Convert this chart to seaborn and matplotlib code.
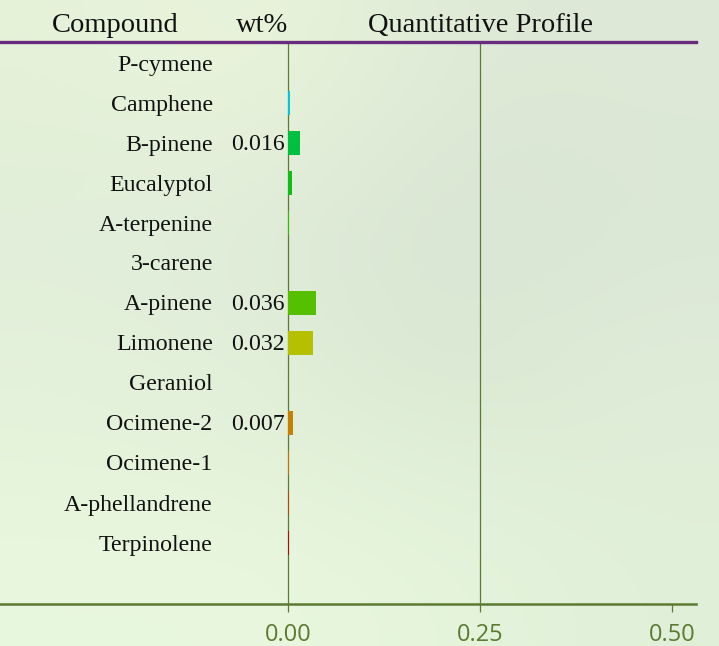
import numpy as np
import matplotlib.pyplot as plt
import seaborn as sns

# dados do perfil quantitativo
compounds = ['P-cymene', 'Camphene', 'B-pinene', 'Eucalyptol', 'A-terpenine', '3-carene',
             'A-pinene', 'Limonene', 'Geraniol', 'Ocimene-2', 'Ocimene-1', 'A-phellandrene',
             'Terpinolene']
wt_pct = [0.0, 0.002, 0.016, 0.005, 0.001, 0.0, 0.036, 0.032, 0.0, 0.007, 0.001, 0.001, 0.001]
bar_colors = ['#2080e0', '#00c8dc', '#00c040', '#10c010', '#30c000', '#40c000',
              '#55c000', '#b4c000', '#c0a000', '#c88000', '#c87000', '#c04000', '#c00000']
ticks = [0.00, 0.25, 0.50]
tick_labels = ['0.00', '0.25', '0.50']

sns.set_theme(style="white")
plt.rcParams['font.family'] = ['Liberation Serif', 'DejaVu Serif']

fig = plt.figure(figsize=(7.19, 6.46), dpi=100)

# fundo desfocado verde-claro
bg = fig.add_axes([0, 0, 1, 1], zorder=-1)
bg_grid = np.array([
    [[0.90, 0.95, 0.85], [0.92, 0.96, 0.86], [0.87, 0.92, 0.84], [0.87, 0.91, 0.84]],
    [[0.88, 0.93, 0.85], [0.87, 0.92, 0.85], [0.84, 0.89, 0.82], [0.86, 0.91, 0.84]],
    [[0.90, 0.95, 0.86], [0.89, 0.94, 0.85], [0.86, 0.92, 0.83], [0.88, 0.93, 0.85]],
    [[0.91, 0.97, 0.87], [0.91, 0.97, 0.87], [0.90, 0.96, 0.86], [0.88, 0.94, 0.85]],
])
bg.imshow(bg_grid, aspect='auto', interpolation='bicubic', extent=[0, 1, 0, 1])
bg.axis('off')

ax = fig.add_axes([0, 1 - 604 / 646, 696 / 719, 562 / 646])
ax.patch.set_alpha(0)

sns.barplot(x=wt_pct, y=compounds, hue=compounds, palette=bar_colors, legend=False,
            orient='h', width=0.62, saturation=1, linewidth=0, ax=ax, zorder=3)

ax.set_xlim(-288 / 768, (696 - 288) / 768)
ax.set_ylim(12 + 61 / 40, -21 / 40)

olive = '#5b7a32'
for x in [0.0, 0.25]:
    ax.axvline(x, color=olive, lw=0.9, zorder=2)

# nomes e valores
for i, (name, v) in enumerate(zip(compounds, wt_pct)):
    ax.text(-0.098, i + 0.05, name, ha='right', va='center', fontsize=17.2, color='#111111')
    if v >= 0.006:
        ax.text(-0.004, i + 0.05, f'{v:.3f}', ha='right', va='center', fontsize=17.2, color='#111111')

ax.set_xticks(ticks)
ax.set_xticklabels(tick_labels, fontfamily='Open Sans', fontsize=17, color=olive)
ax.tick_params(axis='x', direction='out', length=6, width=0.9, color=olive, pad=8, bottom=True)
ax.set_yticks([])
ax.set_xlabel('')
ax.set_ylabel('')

for s in ['left', 'right']:
    ax.spines[s].set_visible(False)
ax.spines['top'].set_color('#6a2a7e')
ax.spines['top'].set_linewidth(2.4)
ax.spines['bottom'].set_color(olive)
ax.spines['bottom'].set_linewidth(1.8)

# cabeçalho
hy = 1 - 25 / 646
fig.text(115 / 719, hy, 'Compound', ha='center', va='center', fontsize=20.5, color='#111111')
fig.text(262 / 719, hy, 'wt%', ha='center', va='center', fontsize=20.5, color='#111111')
fig.text(480 / 719, hy, 'Quantitative Profile', ha='center', va='center', fontsize=20.5, color='#111111')

fig.savefig('out.png', dpi=100)
